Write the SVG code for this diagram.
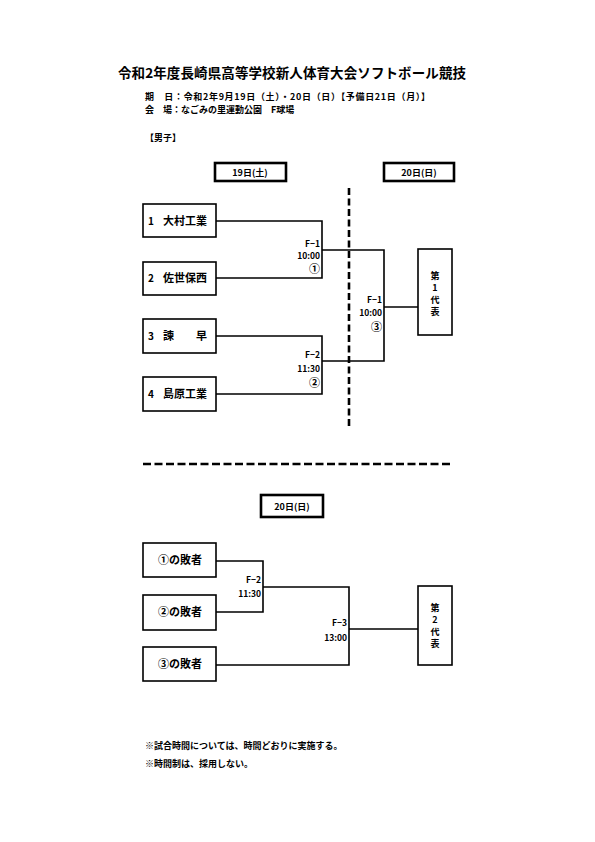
<svg xmlns="http://www.w3.org/2000/svg" width="595" height="842" viewBox="0 0 595 842">
<style>
text{font-family:"Noto Sans CJK JP","Liberation Sans",sans-serif;font-weight:bold;fill:#000}
.box{fill:#fff;stroke:#000;stroke-width:1.6}
.hdr{fill:#fff;stroke:#000;stroke-width:2.6}
.ln{fill:none;stroke:#000;stroke-width:1.6}
.t10{font-size:10px}
.t11{font-size:11px}
.t9{font-size:9px}
.v{font-size:9px;text-anchor:middle}
.lbl{font-size:8.5px;text-anchor:end}
.cir{font-size:11px;text-anchor:end}
.mid{text-anchor:middle}
</style>
<rect width="595" height="842" fill="#fff"/>
<g id="header">
<text x="292" y="78" class="mid" font-size="13.5" textLength="348">令和2年度長崎県高等学校新人体育大会ソフトボール競技</text>
<text x="145" y="100" class="t9" textLength="285">期　日：令和2年9月19日（土）・20日（日）【予備日21日（月）】</text>
<text x="145" y="113" class="t9">会　場：なごみの里運動公園　F球場</text>
<text x="145" y="141" class="t9">【男子】</text>
</g>
<g id="day-headers">
<rect class="hdr" x="215" y="163" width="71" height="18"/>
<text x="250" y="176" class="t9 mid">19日(土)</text>
<rect class="hdr" x="384" y="163" width="70" height="18"/>
<text x="419" y="176" class="t9 mid">20日(日)</text>
<rect class="hdr" x="261" y="495" width="62" height="22"/>
<text x="292" y="510" class="t9 mid">20日(日)</text>
</g>
<g id="connectors">
<line x1="349" y1="188" x2="349" y2="428" stroke="#000" stroke-width="2.6" stroke-dasharray="7,3.5"/>
<line x1="143" y1="464" x2="453" y2="464" stroke="#000" stroke-width="2.6" stroke-dasharray="8,3.5"/>
<polyline class="ln" points="216,221 322,221 322,278 216,278"/>
<polyline class="ln" points="216,336 322,336 322,394 216,394"/>
<polyline class="ln" points="322,250 384,250 384,361 322,361"/>
<line class="ln" x1="384" y1="307" x2="418" y2="307"/>
<polyline class="ln" points="216,561 263,561 263,612 216,612"/>
<polyline class="ln" points="263,587 349,587 349,665 216,665"/>
<line class="ln" x1="349" y1="629" x2="418" y2="629"/>
</g>
<g id="match-labels">
<text x="320" y="247" class="lbl">F−1</text>
<text x="320" y="259" class="lbl">10:00</text>
<text x="320" y="273" class="cir">①</text>
<text x="320" y="358" class="lbl">F−2</text>
<text x="320" y="372" class="lbl">11:30</text>
<text x="320" y="387" class="cir">②</text>
<text x="382" y="303" class="lbl">F−1</text>
<text x="382" y="316" class="lbl">10:00</text>
<text x="382" y="331" class="cir">③</text>
<text x="261" y="583" class="lbl">F−2</text>
<text x="261" y="597" class="lbl">11:30</text>
<text x="347" y="626" class="lbl">F−3</text>
<text x="347" y="641" class="lbl">13:00</text>
</g>
<g id="team1"><rect class="box" x="143" y="204" width="73" height="33"/><text x="148" y="225" class="t10">1</text><text x="163" y="225" class="t11">大村工業</text></g>
<g id="team2"><rect class="box" x="143" y="262" width="73" height="33"/><text x="148" y="282" class="t10">2</text><text x="163" y="282" class="t11">佐世保西</text></g>
<g id="team3"><rect class="box" x="143" y="319" width="73" height="34"/><text x="148" y="340" class="t10">3</text><text x="163" y="340" class="t11">諫　　早</text></g>
<g id="team4"><rect class="box" x="143" y="377" width="73" height="34"/><text x="148" y="398" class="t10">4</text><text x="163" y="398" class="t11">島原工業</text></g>
<g id="rep1"><rect class="box" x="418" y="249" width="34" height="86"/>
<text x="435" y="279" class="v">第</text><text x="435" y="291" class="v">1</text><text x="435" y="303" class="v">代</text><text x="435" y="315" class="v">表</text></g>
<g id="loser1"><rect class="box" x="143" y="543" width="73" height="34"/><text x="180" y="564" class="t11 mid">①の敗者</text></g>
<g id="loser2"><rect class="box" x="143" y="595" width="73" height="35"/><text x="180" y="616" class="t11 mid">②の敗者</text></g>
<g id="loser3"><rect class="box" x="143" y="647" width="73" height="34"/><text x="180" y="668" class="t11 mid">③の敗者</text></g>
<g id="rep2"><rect class="box" x="418" y="586" width="34" height="79"/>
<text x="435" y="611" class="v">第</text><text x="435" y="623" class="v">2</text><text x="435" y="635" class="v">代</text><text x="435" y="647" class="v">表</text></g>
<g id="notes">
<text x="145" y="749" class="t9">※試合時間については、時間どおりに実施する。</text>
<text x="145" y="767" class="t9">※時間制は、採用しない。</text>
</g>
</svg>
